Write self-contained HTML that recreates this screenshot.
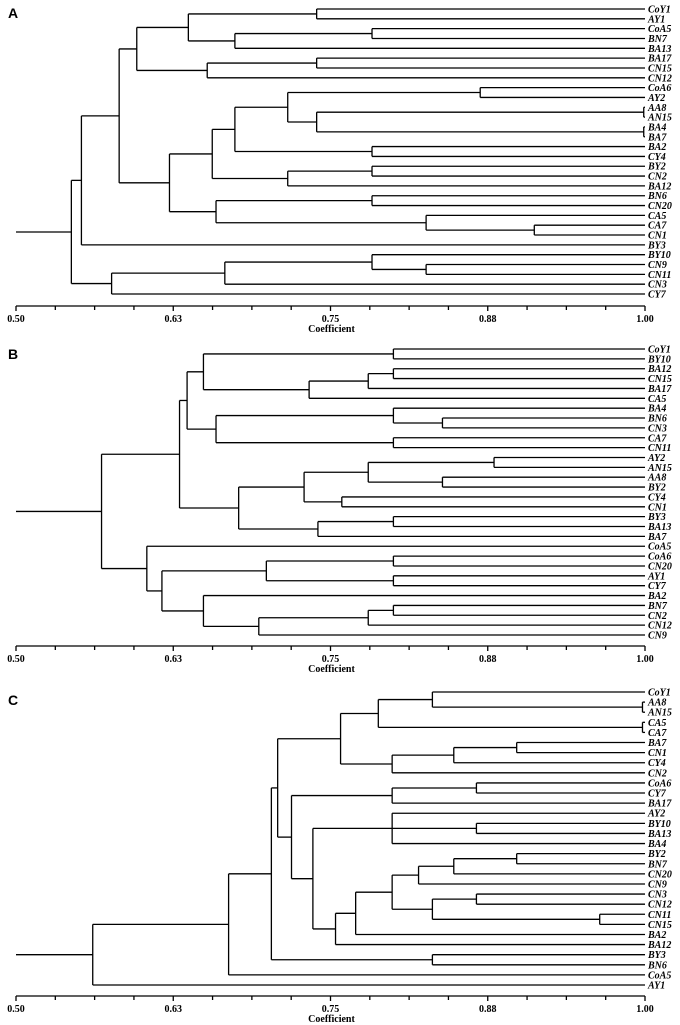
<!DOCTYPE html>
<html><head><meta charset="utf-8"><style>
html,body{margin:0;padding:0;background:#fff;}
svg{display:block;}
.lf{font-family:"Liberation Serif",serif;font-style:italic;font-weight:bold;font-size:10px;}
.tk{font-family:"Liberation Serif",serif;font-weight:bold;font-size:10px;}
.pl{font-family:"Liberation Sans",sans-serif;font-weight:bold;font-size:14px;}
</style></head><body>
<svg id="chart" width="680" height="1025" viewBox="0 0 680 1025" xmlns="http://www.w3.org/2000/svg"></svg>
<script>
// Data: nested trees [mergeHeight, child, child, ...]; leaves are strings
const treeA = [0.544,[0.552,[0.582,[0.596,[0.637,[0.739,"CoY1","AY1"],[0.674,[0.783,"CoA5","BN7"],"BA13"]],[0.652,[0.739,"BA17","CN15"],"CN12"]],[0.622,[0.656,[0.674,[0.716,[0.869,"CoA6","AY2"],[0.739,[0.999,"AA8","AN15"],[0.999,"BA4","BA7"]]],[0.783,"BA2","CY4"]],[0.716,[0.783,"BY2","CN2"],"BA12"]],[0.659,[0.783,"BN6","CN20"],[0.826,"CA5",[0.912,"CA7","CN1"]]]]],"BY3"],[0.576,[0.666,[0.783,"BY10",[0.826,"CN9","CN11"]],"CN3"],"CY7"]];
const treeB = [0.568,[0.630,[0.636,[0.649,[0.800,"CoY1","BY10"],[0.733,[0.780,[0.800,"BA12","CN15"],"BA17"],"CA5"]],[0.659,[0.800,"BA4",[0.839,"BN6","CN3"]],[0.800,"CA7","CN11"]]],[0.677,[0.729,[0.780,[0.880,"AY2","AN15"],[0.839,"AA8","BY2"]],[0.759,"CY4","CN1"]],[0.740,[0.800,"BY3","BA13"],"BA7"]]],[0.604,"CoA5",[0.616,[0.699,[0.800,"CoA6","CN20"],[0.800,"AY1","CY7"]],[0.649,"BA2",[0.693,[0.780,[0.800,"BN7","CN2"],"CN12"],"CN9"]]]]];
const treeC = [0.561,[0.669,[0.703,[0.708,[0.758,[0.788,[0.831,"CoY1",[0.998,"AA8","AN15"]],[0.998,"CA5","CA7"]],[0.799,[0.848,[0.898,"BA7","CN1"],"CY4"],"CN2"]],[0.719,[0.799,[0.866,"CoA6","CY7"],"BA17"],[0.736,[0.799,"AY2",[0.866,"BY10","BA13"],"BA4"],[0.754,[0.770,[0.799,[0.820,[0.848,[0.898,"BY2","BN7"],"CN20"],"CN9"],[0.831,[0.866,"CN3","CN12"],[0.964,"CN11","CN15"]]],"BA2"],"BA12"]]]],[0.831,"BY3","BN6"]],"CoA5"],"AY1"];
const tickValues = [0.5,0.625,0.75,0.875,1.0];
const tickLabels = ["0.50","0.63","0.75","0.88","1.00"];
const panelLetters = ["A","B","C"];

const svg = document.getElementById('chart');
const NS = "http://www.w3.org/2000/svg";
const X0 = 16, X1 = 645;
function xs(v){ return X0 + (v-0.5)/0.5*(X1-X0); }
function mk(tag, attrs, parent){
  const e = document.createElementNS(NS, tag);
  for (const k in attrs) e.setAttribute(k, attrs[k]);
  (parent||svg).appendChild(e); return e;
}
function line(g,x1,y1,x2,y2,name){
  const l = mk('line',{x1:x1,y1:y1,x2:x2,y2:y2,stroke:'#000','stroke-width':1.3},g);
  
  
  return l;
}
const panels = [
  {tree:treeA, top:9, bottom:294, axisY:306, letterY:18},
  {tree:treeB, top:349, bottom:635, axisY:646, letterY:359},
  {tree:treeC, top:692, bottom:985, axisY:996, letterY:705}
];
panels.forEach((p, pi) => {
  const g = mk('g',{});
  
  
  const letter = mk('text',{x:8,y:p.letterY,class:'pl'},g);
  letter.textContent = panelLetters[pi];
  
  
  // count leaves
  const leaves = [];
  (function collect(n){ if (typeof n === 'string') leaves.push(n); else n.slice(1).forEach(collect); })(p.tree);
  const step = (p.bottom - p.top) / (leaves.length - 1);
  let idx = 0;
  function layout(n){
    if (typeof n === 'string'){
      const y = p.top + step * (idx++);
      const t = mk('text',{x:X1+3,y:y+3.5,class:'lf'},g);
      t.textContent = n;
      
      
      return {x:xs(1.0), y:y};
    }
    const x = xs(n[0]);
    const kids = n.slice(1).map(layout);
    kids.forEach(k => line(g, x, k.y, k.x, k.y, 'branch'));
    const y1 = kids[0].y, y2 = kids[kids.length-1].y;
    line(g, x, y1, x, y2, 'merge-node');
    return {x:x, y:(y1+y2)/2};
  }
  const r = layout(p.tree);
  line(g, xs(0.5), r.y, r.x, r.y, 'root-stem');
  // axis
  const ax = mk('g',{},g);
  
  
  line(ax, xs(0.5), p.axisY, xs(1.0), p.axisY, 'axis-line');
  for (let i=0;i<=16;i++){
    const v = 0.5 + i*0.03125;
    const major = i%4===0;
    line(ax, xs(v), p.axisY, xs(v), p.axisY + (major?5:4), major?'major-tick':'minor-tick');
  }
  tickValues.forEach((v,i) => {
    const t = mk('text',{x:xs(v),y:p.axisY+16,'text-anchor':'middle',class:'tk'},ax);
    t.textContent = tickLabels[i];
    
    
  });
  const at = mk('text',{x:xs(0.75)+1,y:p.axisY+26,'text-anchor':'middle',class:'tk','font-size':'9'},ax);
  at.textContent = 'Coefficient';
  
  
});
</script>
</body></html>
